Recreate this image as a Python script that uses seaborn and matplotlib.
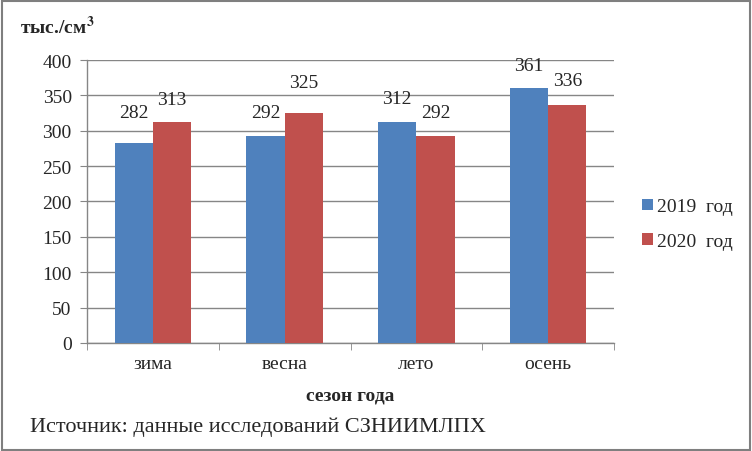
import pandas as pd
import numpy as np
import seaborn as sns
import matplotlib.pyplot as plt
from matplotlib.patches import Rectangle

seasons = ['зима', 'весна', 'лето', 'осень']
years = ['2019  год', '2020  год']
v2019 = [282, 292, 312, 361]
v2020 = [313, 325, 292, 336]

df = pd.DataFrame({
    'season': seasons * 2,
    'year': [years[0]] * 4 + [years[1]] * 4,
    'value': v2019 + v2020,
})

sns.set_style('white')
plt.rcParams['font.family'] = ['Liberation Serif', 'DejaVu Serif']
plt.rcParams['mathtext.fontset'] = 'stix'

fig = plt.figure(figsize=(7.52, 4.52), dpi=100)
ax = fig.add_axes([0.1157, 0.239, 0.7008, 0.626])

sns.barplot(data=df, x='season', y='value', hue='year', order=seasons,
            palette=['#4F81BD', '#C0504D'], width=0.58, saturation=1,
            linewidth=0, edgecolor='none', ax=ax, zorder=3)

# label offsets (points) above the bars, as placed in the original
pads = [[16, 11, 11, 10], [10, 16, 11, 12]]
for c, p in zip(ax.containers, pads):
    for bar, pad in zip(c, p):
        ax.annotate(f'{bar.get_height():.0f}',
                    (bar.get_x() + bar.get_width() / 2, bar.get_height()),
                    xytext=(0, pad), textcoords='offset points',
                    ha='center', va='bottom', fontsize=14)

ax.set_ylim(0, 400)
ax.set_yticks(range(0, 401, 50))
ax.set_xlim(-0.5, 3.5)
ax.yaxis.grid(True, color='#868686', linewidth=1, zorder=0)
ax.set_axisbelow(True)
for s in ['top', 'right']:
    ax.spines[s].set_visible(False)
for s in ['left', 'bottom']:
    ax.spines[s].set_color('#868686')
    ax.spines[s].set_linewidth(1)

ax.tick_params(axis='y', labelsize=14, length=5, color='#868686', left=True, pad=6)
ax.tick_params(axis='x', which='major', labelsize=14, length=0, pad=9)
ax.set_xticks(np.arange(-0.5, 4, 1), minor=True)
ax.tick_params(axis='x', which='minor', length=5, color='#868686', bottom=True)

ax.set_xlabel('сезон года', fontsize=14, fontweight='bold', labelpad=10)
ax.set_ylabel('')
fig.text(0.027, 0.925, 'тыс./см$^\\mathbf{3}$', fontsize=14, fontweight='bold')
fig.text(0.04, 0.045, 'Источник: данные исследований СЗНИИМЛПХ', fontsize=16)

ax.legend(loc='center left', bbox_to_anchor=(1.02, 0.42), frameon=False,
          fontsize=14, handlelength=0.55, handleheight=0.55, handletextpad=0.2,
          labelspacing=0.9)

fig.patches.append(Rectangle((0.002, 0.003), 0.995, 0.993, transform=fig.transFigure,
                             fill=False, edgecolor='#7f7f7f', linewidth=1.5))

fig.savefig('out.png', dpi=100)
